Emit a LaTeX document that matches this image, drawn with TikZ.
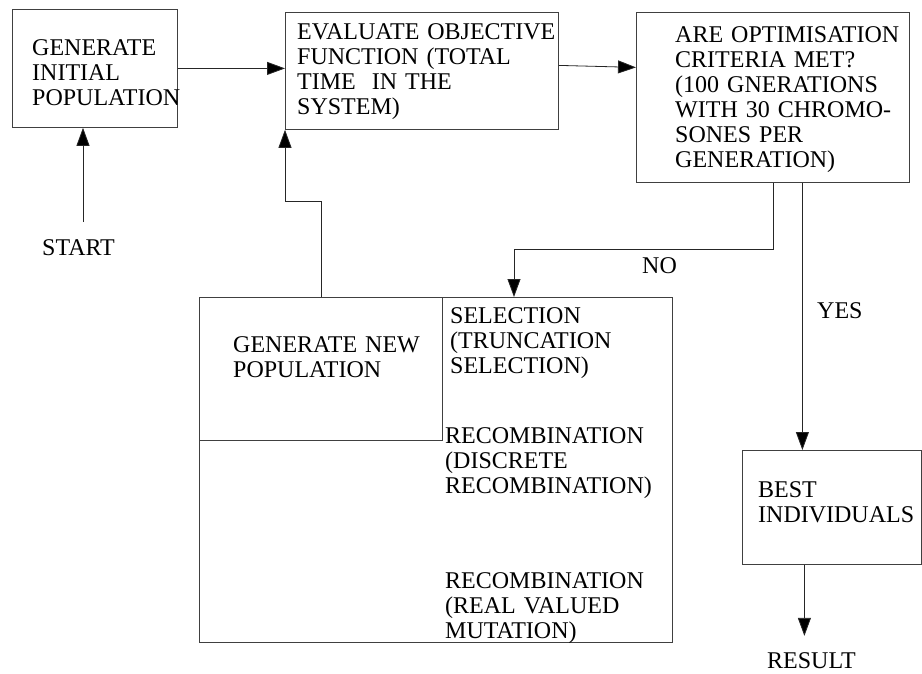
\documentclass[tikz,border=0pt]{standalone}
\usepackage{fontspec}
\setmainfont{Liberation Serif}
\usepackage{tikz}
\usetikzlibrary{arrows.meta}

\begin{document}
\begin{tikzpicture}[
  x=1pt, y=-1pt,
  blk/.style={draw=black!75, line width=0.8pt, inner sep=0pt, anchor=north west},
  txt/.style={anchor=base west, inner sep=0pt, align=left, text width=260pt, font=\fontsize{24}{25}\selectfont},
  lnk/.style={draw=black!85, line width=0.8pt, -{Triangle[length=18pt, width=13pt, fill=black]}}
]
  \useasboundingbox (0,0) rectangle (922,673);

  % Boxes
  \node[blk, minimum width=165, minimum height=118] (init)   at (12,9)    {};
  \node[blk, minimum width=273, minimum height=117] (eval)   at (285,12)  {};
  \node[blk, minimum width=273, minimum height=170] (crit)   at (636,12)  {};
  \node[blk, minimum width=473, minimum height=345] (gen)    at (199,297) {};
  \node[blk, minimum width=243, minimum height=143] (newpop) at (199,297) {};
  \node[blk, minimum width=179, minimum height=114] (best)   at (742,450) {};

  % Texts
  \node[txt] (tinit) at (32,55)   {GENERATE\\INITIAL\\POPULATION};
  \node[txt] (teval) at (297,39)  {EVALUATE OBJECTIVE\\FUNCTION (TOTAL\\TIME\ \ IN THE\\SYSTEM)};
  \node[txt] (tcrit) at (675,42)  {ARE OPTIMISATION\\CRITERIA MET?\\(100 GNERATIONS\\WITH 30 CHROMO-\\SONES PER\\GENERATION)};
  \node[txt] (tnew)  at (233,352) {GENERATE NEW\\POPULATION};
  \node[txt] (tsel)  at (450,323) {SELECTION\\(TRUNCATION\\SELECTION)};
  \node[txt] (tdis)  at (445,443) {RECOMBINATION\\(DISCRETE\\RECOMBINATION)};
  \node[txt] (treal) at (445,588) {RECOMBINATION\\(REAL VALUED\\MUTATION)};
  \node[txt] (tbest) at (758,497) {BEST\\INDIVIDUALS};
  \node[txt] (start)  at (42,255)  {START};
  \node[txt] (result) at (767,668) {RESULT};
  \node[txt] (no)     at (642,273) {NO};
  \node[txt] (yes)    at (817,318) {YES};

  % Connectors
  \coordinate (startpt) at (83,222);
  \coordinate (nobend)  at (514,249);
  \coordinate (fbturn)  at (285,201);
  \draw[lnk] (startpt) -- (startpt |- init.south);
  \draw[lnk] (init.east) -- (init.east -| eval.west);
  \draw[lnk] ([yshift=5.5]eval.east) -- ([yshift=30]crit.west);
  \draw[lnk] (crit.south) |- (nobend) -- (nobend |- gen.north);
  \draw[lnk] ([xshift=29.5]crit.south) -- ([xshift=29.5]crit.south |- best.north);
  \draw[lnk] ([xshift=-27.5]best.south) -- ([xshift=-27.5]best.south |- result.north) [shorten >=16pt];
  \draw[lnk] ([xshift=122]gen.north west) |- (fbturn) -- (fbturn |- eval.south);
\end{tikzpicture}
\end{document}
